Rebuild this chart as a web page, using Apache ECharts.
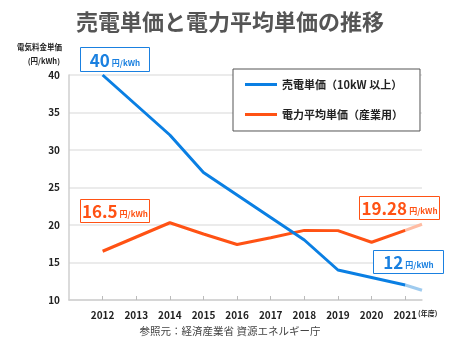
<!DOCTYPE html>
<html><head><meta charset="utf-8">
<script src="https://cdn.jsdelivr.net/npm/echarts@6/dist/echarts.min.js"></script>
<style>html,body{margin:0;padding:0;background:#fff}#c{width:460px;height:350px}</style>
</head><body><div id="c"></div>
<script>
var years = [2012, 2013, 2014, 2015, 2016, 2017, 2018, 2019, 2020, 2021];
var sellPrice = [40, 36, 32, 27, 24, 21, 18, 14, 13, 12];
var avgPrice = [16.5, 18.4, 20.3, 18.8, 17.4, 18.3, 19.28, 19.25, 17.7, 19.28];
var extYears = [2021, 2021.5];
var sellExt = [12, 11.3];
var avgExt = [19.28, 20.1];
var yTicks = [10, 15, 20, 25, 30, 35, 40];
var seriesNames = ['売電単価（10kW 以上）', '電力平均単価（産業用）'];
var FONT = '"Noto Sans CJK JP", "Noto Sans", sans-serif';

function pairs(xs, ys){ return xs.map(function(x,i){ return [x, ys[i]]; }); }

function box(x, y, w, h, color, num, unit){
  return {
    type: 'group', left: x, top: y, z: 100,
    children: [
      {type:'rect', z: 100, shape:{x:0,y:0,width:w,height:h}, style:{fill:'#fff', stroke:color, lineWidth:1}},
      {type:'text', z: 101, x: w/2, y: h/2 + 1, style:{
        text: '{a|' + num + '}{b|' + unit + '}',
        align:'center', verticalAlign:'middle',
        rich:{
          a:{fontSize:17, fontWeight:'bold', fill:color, fontFamily:FONT},
          b:{fontSize:8, fontWeight:'bold', fill:color, fontFamily:FONT, padding:[4,0,0,2]}
        }
      }}
    ]
  };
}

var chart = echarts.init(document.getElementById('c'));
chart.setOption({
  backgroundColor: '#fff',
  animation: false,
  textStyle: {fontFamily: FONT},
  title: {
    text: '売電単価と電力平均単価の推移',
    left: 'center', top: 6,
    textStyle: {fontSize: 22, fontWeight: 'bold', color: '#555', fontFamily: FONT}
  },
  legend: {
    data: seriesNames,
    orient: 'vertical',
    left: 233, top: 69,
    padding: [10, 17, 11, 12],
    itemGap: 19,
    itemWidth: 32, itemHeight: 3,
    icon: 'rect',
    backgroundColor: '#fff',
    borderColor: '#555', borderWidth: 1,
    textStyle: {fontSize: 11, fontWeight: 'bold', color: '#222', width: 120, fontFamily: FONT}
  },
  grid: {left: 69, right: 38, top: 75, bottom: 50},
  xAxis: {
    type: 'value', min: 2011, max: 2021.5,
    splitLine: {show: false},
    axisLine: {show: true, lineStyle: {color: '#cfcfcf', width: 1.5}},
    axisTick: {show: true, inside: true, length: 4, customValues: years, lineStyle: {color: '#bbb'}},
    axisLabel: {customValues: years, fontSize: 10, fontWeight: 'bold', color: '#222', margin: 10,
      formatter: function(v){ return String(v); }}
  },
  yAxis: {
    type: 'value', min: 10, max: 40, interval: 5,
    axisLine: {show: true, lineStyle: {color: '#cfcfcf', width: 1.5}},
    axisTick: {show: false},
    splitLine: {show: true, lineStyle: {color: '#e4e4e4', width: 1.5}},
    axisLabel: {fontSize: 10, fontWeight: 'bold', color: '#222', margin: 9}
  },
  series: [
    {name: seriesNames[1], type: 'line', data: pairs(years, avgPrice), showSymbol: false,
     lineStyle: {width: 3, color: '#ff5214'}, itemStyle: {color: '#ff5214'}, z: 2},
    {name: seriesNames[0], type: 'line', data: pairs(years, sellPrice), showSymbol: false,
     lineStyle: {width: 3, color: '#0a7fe3'}, itemStyle: {color: '#0a7fe3'}, z: 3},
    {name: 'ext1', type: 'line', data: pairs(extYears, sellExt), showSymbol: false,
     lineStyle: {width: 3, color: '#9fcbef'}, z: 1},
    {name: 'ext2', type: 'line', data: pairs(extYears, avgExt), showSymbol: false,
     lineStyle: {width: 3, color: '#ffbca3'}, z: 1}
  ],
  graphic: [
    {type:'text', right: 398, top: 43, style:{text:'電気料金単価', fontSize:7.5, fontWeight:'bold', fill:'#222', fontFamily:FONT}},
    {type:'text', right: 400, top: 57, style:{text:'(円/kWh)', fontSize:7.5, fontWeight:'bold', fill:'#222', fontFamily:FONT}},
    {type:'text', left: 418, top: 310, style:{text:'(年度)', fontSize:7, fontWeight:'bold', fill:'#222', fontFamily:FONT}},
    {type:'text', left: 'center', top: 326, style:{text:'参照元：経済産業省 資源エネルギー庁', fontSize:10.5, fill:'#444', fontFamily:FONT}},
    box(80, 47, 69, 24, '#1a80e0', '40', '円/kWh'),
    box(80, 199, 69, 23, '#ff5214', '16.5', '円/kWh'),
    box(359, 196, 80, 23, '#ff5214', '19.28', '円/kWh'),
    box(373, 250, 70, 23, '#1a80e0', '12', '円/kWh')
  ]
});
</script></body></html>
